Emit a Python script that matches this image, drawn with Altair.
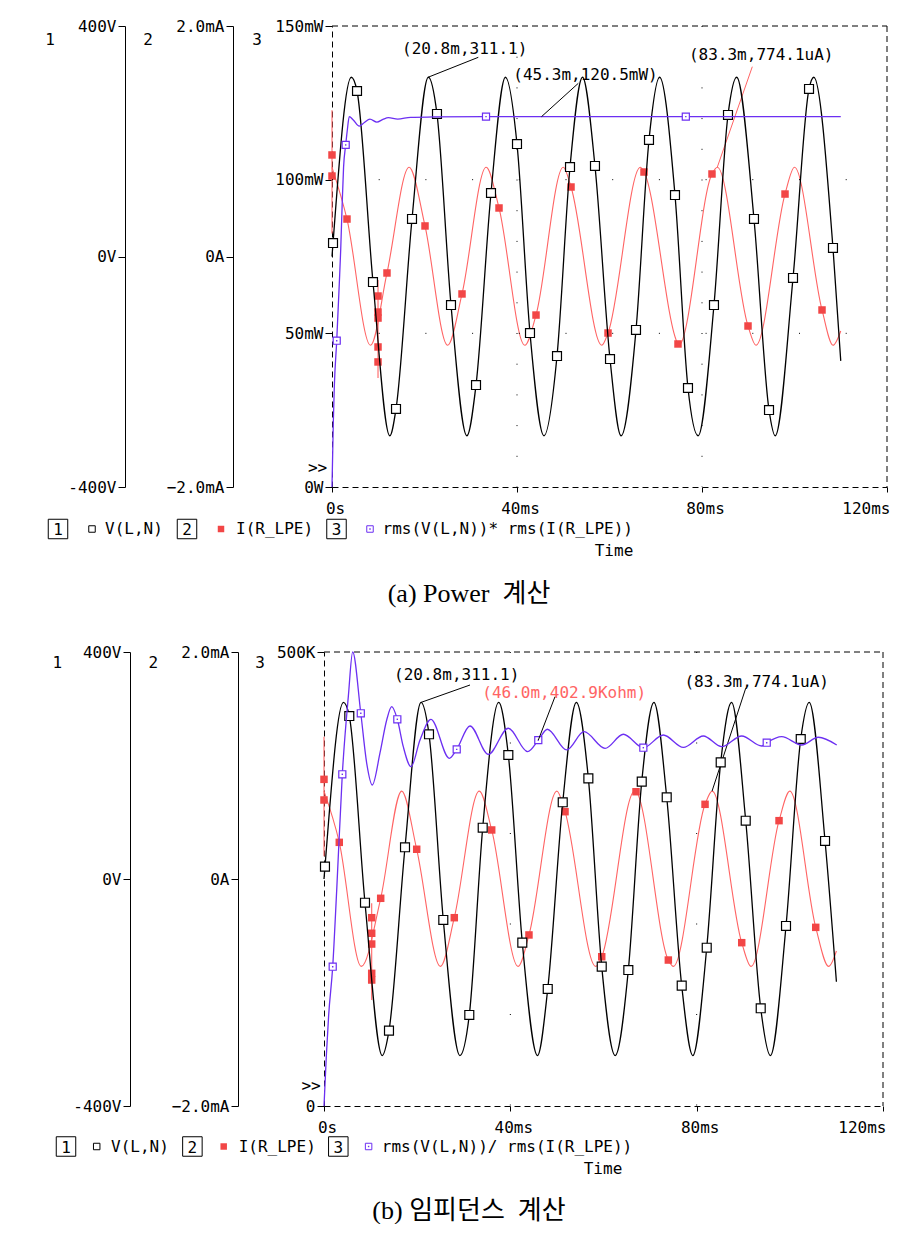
import altair as alt
import pandas as pd

MONO = "DejaVu Sans Mono"
SERIF = "Liberation Serif, Noto Sans CJK KR"
RED_LINE = "#ff6464"
RED_MK = "#f24646"
BLUE = "#6c2ff2"

# ================= Panel (a) : Power =================
# V(L,N) extremes (ms, V)
A_V_T = [0, 4.17, 12.5, 20.83, 29.17, 37.5, 45.83, 54.17, 62.5, 70.83, 79.17, 87.5, 95.83, 104.17, 110.0]
A_V = [0, 311.1, -311.1, 311.1, -311.1, 311.1, -311.1, 311.1, -311.1, 311.1, -311.1, 311.1, -311.1, 311.1, -181.0]
# V(L,N) markers
A_VM_T = [0.22, 5.41, 8.86, 13.84, 17.30, 22.70, 25.73, 31.14, 34.38, 40.0, 42.81, 48.65, 51.46, 56.86,
          60.11, 65.73, 68.54, 74.16, 76.97, 82.59, 85.62, 91.24, 94.49, 99.68, 103.14, 108.32]
A_VM = [23.4, 287.2, -44.3, -264.6, 65.1, 247.3, -84.2, -223.0, 110.2, 195.2, -132.8, -172.7, 155.3, 157.1,
        -177.9, -127.5, 202.2, 106.7, -228.2, -84.2, 245.6, 65.1, -266.4, -37.3, 290.7, 14.8]
# I(R_LPE) extremes (ms, mA)
A_I_T = [0, 8.33, 16.67, 25.0, 33.33, 41.67, 50.0, 58.33, 66.67, 75.0, 83.33, 91.67, 100.0, 108.33, 110.0]
A_I = [0.774, -0.77, 0.774, -0.77, 0.774, -0.77, 0.774, -0.77, 0.774, -0.77, 0.774, -0.77, 0.774, -0.77, -0.646]
# I(R_LPE) markers on the trace
A_IM_T = [3.24, 11.89, 20.11, 28.11, 36.11, 44.11, 51.68, 59.68, 67.46, 74.81, 82.16, 89.95, 97.95, 105.95]
A_IM = [0.325, -0.143, 0.265, -0.325, 0.421, -0.508, 0.603, -0.664, 0.733, -0.759, 0.716, -0.603, 0.542, -0.464]
# I(R_LPE) markers on the vertical steps
A_IX_T = [0, 0, 9.95, 9.95, 9.95, 9.95, 9.95]
A_IX = [0.881, 0.698, -0.343, -0.482, -0.534, -0.785, -0.915]
# vertical steps of I(R_LPE): time, from, to
A_STEP_T = [0, 9.95]
A_STEP_LO = [0.2, -1.054]
A_STEP_HI = [1.27, -0.204]
# rms(V)*rms(I) (ms, mW)
A_P_T = [0, 0.28, 0.5, 1.02, 1.58, 1.88, 2.2, 2.5, 2.96, 3.3, 3.74, 4.6, 5.9, 7.0, 8.2, 9.7, 11.0, 12.2, 14.2,
         17.0, 22.0, 33.3, 76.5, 110.0]
A_P = [0, 20.8, 32.6, 47.6, 66.3, 77.1, 92.0, 104.0, 111.3, 116.0, 120.5, 119.4, 117.4, 118.6, 119.7, 118.7,
       119.6, 120.2, 119.7, 120.3, 120.4, 120.5, 120.5, 120.5]
A_PM_T = [1.02, 2.96, 33.3, 76.5]
A_PM = [47.6, 111.3, 120.5, 120.5]

# ================= Panel (b) : Impedance =================
B_V_T = [0, 4.17, 12.5, 20.83, 29.17, 37.5, 45.83, 54.17, 62.5, 70.83, 79.17, 87.5, 95.83, 104.17, 110.0]
B_V = [0, 311.1, -311.1, 311.1, -311.1, 311.1, -311.1, 311.1, -311.1, 311.1, -311.1, 311.1, -311.1, 311.1, -181.0]
B_VM_T = [0.21, 5.43, 8.80, 13.95, 17.39, 22.54, 25.61, 31.19, 34.07, 39.57, 42.57, 48.03, 51.25, 56.75,
          59.62, 65.33, 68.21, 73.57, 76.79, 82.16, 85.16, 90.53, 93.75, 99.18, 102.34, 107.56]
B_VM = [21.7, 287.2, -41.8, -267.3, 55.9, 255.0, -72.2, -239.6, 90.4, 218.5, -112.2, -193.8, 135.2, 177.4,
        -154.5, -160.4, 171.5, 144.0, -188.0, -121.1, 205.6, 102.7, -227.8, -82.8, 246.7, 67.0]
B_I_T = [0, 8.0, 16.67, 25.0, 33.33, 41.67, 50.0, 58.33, 66.67, 75.0, 83.33, 91.67, 100.0, 108.33, 110.0]
B_I = [0.774, -0.77, 0.774, -0.77, 0.774, -0.77, 0.774, -0.77, 0.774, -0.77, 0.774, -0.77, 0.774, -0.77, -0.634]
B_IM_T = [3.28, 12.17, 19.90, 27.97, 36.0, 44.0, 51.74, 59.62, 66.98, 73.92, 81.80, 89.67, 97.68, 105.56]
B_IM = [0.323, -0.170, 0.262, -0.341, 0.432, -0.493, 0.593, -0.685, 0.769, -0.714, 0.658, -0.561, 0.514, -0.426]
B_IX_T = [0, 0, 10.24, 10.24, 10.24, 10.24, 10.24]
B_IX = [0.878, 0.696, -0.341, -0.478, -0.573, -0.831, -0.890]
B_STEP_T = [0, 10.24]
B_STEP_LO = [0.2, -1.066]
B_STEP_HI = [1.254, -0.214]
# rms(V)/rms(I) (ms, kohm)
B_Z_T = [0, 0.5, 1.0, 2.73, 5.22, 6.16, 9.17, 10.37, 12.02, 13.46, 14.53, 17.02, 18.68, 20.61, 22.97, 26.9,
         31.34, 35.27, 39.57, 43.73, 47.94, 52.10, 55.82, 60.33, 64.26, 72.84, 77.14, 81.43, 85.38, 89.67,
         93.97, 98.26, 102.55, 106.12, 110.07]
B_Z = [0, 55, 100, 238, 450.8, 500, 377.4, 353.5, 388.8, 425.1, 439.8, 395.7, 373.7, 403.1, 425.9, 382.9,
       418.5, 387.3, 416.0, 390.2, 414.9, 392.1, 412.2, 393.9, 409.4, 408.6, 395.0, 407.5, 395.7, 407.5,
       396.5, 406.7, 397.6, 406.1, 397.6]
B_ZM_T = [1.87, 3.93, 7.9, 15.74, 28.49, 46.0, 68.55, 95.04]
B_ZM = [153.4, 365.3, 432.5, 425.9, 392.8, 402.9, 394.6, 400.1]

one = pd.DataFrame({"k": [0]})


def df(ts, vs, col):
    return pd.DataFrame({"t": ts, col: vs})


def joined(ts, vs, mts, mvs, col):
    return pd.concat([df(ts, vs, col), df(mts, mvs, col)]).sort_values("t").reset_index(drop=True)


def txt(s, x, y, size=16, color="black", align="center", font=MONO, baseline="middle"):
    return alt.Chart(one).mark_text(text=s, font=font, fontSize=size, color=color, align=align,
                                    baseline=baseline).encode(x=alt.value(x), y=alt.value(y))


def box_num(n, x, y):
    b = alt.Chart(one).mark_point(shape="square", size=380, filled=False, color="black",
                                  strokeWidth=1, opacity=1).encode(x=alt.value(x), y=alt.value(y))
    return alt.layer(b, txt(n, x, y + 1))


def panel(P):
    W, H = 563, P["H"]
    xsc = alt.Scale(domain=[0, 120], range=[P["x0"], P["x1"]])
    xax = alt.Axis(values=[0, 40, 80, 120],
                   labelExpr="datum.value == 0 ? '0s' : datum.value + 'ms'",
                   tickSize=5, labelPadding=8, domainDash=[6, 4], grid=False, title=None,
                   labelFlush=False, labelOffset=3, labelBaseline="top",
                   labelAlign={"condition": {"test": "datum.value >= 120", "value": "right"},
                               "value": "center"})
    X = alt.X("t:Q", scale=xsc, axis=xax)

    def yax(values, expr, off, dash=None):
        kw = dict(orient="left", offset=off, values=values, labelExpr=expr, tickSize=7,
                  labelPadding=2, grid=False, title=None, labelFlush=False)
        if dash:
            kw["domainDash"] = dash
        return alt.Axis(**kw)

    Vy = alt.Y("v:Q", scale=alt.Scale(domain=[-400, 400]),
               axis=yax([-400, 0, 400], "datum.value + 'V'", P["off1"]))
    Iy = alt.Y("i:Q", scale=alt.Scale(domain=[-2, 2]),
               axis=yax([-2, 0, 2], "datum.value == 0 ? '0A' : format(datum.value, '.1f') + 'mA'", P["off2"]))
    Py = alt.Y("p:Q", scale=alt.Scale(domain=P["pdom"]),
               axis=yax(P["pvals"], P["pexpr"], P["off3"], [6, 4]))

    # ---- current (red)
    iline = alt.Chart(joined(P["I_T"], P["I"], P["IM_T"], P["IM"], "i")).mark_line(
        color=RED_LINE, strokeWidth=1.1, interpolate="monotone").encode(x=X, y=Iy)
    isteps = alt.Chart(pd.DataFrame({"t": P["STEP_T"], "i": P["STEP_LO"], "i2": P["STEP_HI"]})).mark_rule(
        color=RED_LINE, strokeWidth=1.1).encode(x=X, y=Iy, y2="i2:Q")
    imk = alt.Chart(pd.concat([df(P["IM_T"], P["IM"], "i"), df(P["IX_T"], P["IX"], "i")])).mark_square(
        size=56, color=RED_MK, opacity=1).encode(x=X, y=Iy)
    ilead = alt.Chart(df([83.3], [0.7741], "i")).mark_rule(color=P["ilead_color"], strokeWidth=1).encode(
        x=X, y=Iy, x2=alt.value(P["ilead"][0]), y2=alt.value(P["ilead"][1]))
    red = alt.layer(iline, isteps, imk, ilead)

    # ---- voltage (black)
    vline = alt.Chart(joined(P["V_T"], P["V"], P["VM_T"], P["VM"], "v")).mark_line(
        color="black", strokeWidth=1.3, interpolate="monotone").encode(x=X, y=Vy)
    vmk = alt.Chart(df(P["VM_T"], P["VM"], "v")).mark_square(
        size=80, fill="white", stroke="black", strokeWidth=1.2, opacity=1).encode(x=X, y=Vy)
    vlead = alt.Chart(df([20.8], [311.1], "v")).mark_rule(color="black", strokeWidth=1).encode(
        x=X, y=Vy, x2=alt.value(P["vlead"][0]), y2=alt.value(P["vlead"][1]))
    black = alt.layer(vline, vmk, vlead)

    # ---- rms trace (blue)
    pline = alt.Chart(joined(P["P_T"], P["P"], P["PM_T"], P["PM"], "p")).mark_line(
        color=BLUE, strokeWidth=1.3, interpolate="monotone").encode(x=X, y=Py)
    pmk = alt.Chart(df(P["PM_T"], P["PM"], "p")).mark_square(
        size=50, fill="white", stroke=BLUE, strokeWidth=1.2, opacity=1).encode(x=X, y=Py)
    pdot = alt.Chart(df(P["PM_T"], P["PM"], "p")).mark_square(size=2, color=BLUE, opacity=1).encode(x=X, y=Py)
    plead = alt.Chart(df([P["plead_t"]], [P["plead_v"]], "p")).mark_rule(color="black", strokeWidth=1).encode(
        x=X, y=Py, x2=alt.value(P["plead"][0]), y2=alt.value(P["plead"][1]))
    blue_layers = [pline, pmk, pdot, plead]
    if P["hgrid"]:
        hg = alt.Chart(pd.DataFrame({"p": P["hgrid"]})).mark_rule(
            color="black", strokeWidth=1, strokeDash=[1, P["hdash"]]).encode(
            y=Py, x=alt.value(P["x0"]), x2=alt.value(P["x1"]))
        blue_layers.insert(0, hg)
    blue = alt.layer(*blue_layers)

    # ---- frame and grid
    vgrid = alt.Chart(pd.DataFrame({"t": [40, 80]})).mark_rule(
        color="black", strokeWidth=1, strokeDash=[1, P["vdash"]]).encode(
        x=X, y=alt.value(0), y2=alt.value(H))
    top = alt.Chart(pd.DataFrame({"t": [0], "t2": [120]})).mark_rule(
        color="black", strokeWidth=1, strokeDash=[6, 4]).encode(x=X, x2="t2:Q", y=alt.value(0))
    right = alt.Chart(pd.DataFrame({"t": [120]})).mark_rule(
        color="black", strokeWidth=1, strokeDash=[6, 4]).encode(x=X, y=alt.value(0), y2=alt.value(H))

    # ---- texts
    T = P["txt"]
    extras = [
        txt("1", *T["n1"]), txt("2", *T["n2"]), txt("3", *T["n3"]),
        txt(">>", *T["arrow"]),
        txt("(20.8m,311.1)", *T["a1"]),
        txt(P["a2_text"], *T["a2"], color=P["a2_color"]),
        txt("(83.3m,774.1uA)", *T["a3"]),
        box_num("1", *T["b1"]),
        alt.Chart(one).mark_point(shape="square", size=42, filled=False, color="black", strokeWidth=1,
                                  opacity=1).encode(x=alt.value(T["s1"][0]), y=alt.value(T["s1"][1])),
        txt("V(L,N)", *T["l1"], align="left"),
        box_num("2", *T["b2"]),
        alt.Chart(one).mark_square(size=42, color=RED_MK, opacity=1).encode(
            x=alt.value(T["s2"][0]), y=alt.value(T["s2"][1])),
        txt("I(R_LPE)", *T["l2"], align="left"),
        box_num("3", *T["b3"]),
        alt.Chart(one).mark_point(shape="square", size=42, filled=False, color=BLUE, strokeWidth=1,
                                  opacity=1).encode(x=alt.value(T["s3"][0]), y=alt.value(T["s3"][1])),
        alt.Chart(one).mark_square(size=2, color=BLUE, opacity=1).encode(
            x=alt.value(T["s3"][0]), y=alt.value(T["s3"][1])),
        txt(P["l3_text"], *T["l3"], align="left"),
        txt("Time", *T["time"]),
        txt(P["caption"], *T["cap"], size=26, font=SERIF),
    ]
    layers = [vgrid, top, right, red, black, blue] + extras
    if P.get("anchor"):
        layers.append(alt.Chart(one).mark_rule(color="white", opacity=0).encode(
            x=alt.value(P["anchor"][0]), x2=alt.value(P["anchor"][0] + 1), y=alt.value(P["anchor"][1])))
    return alt.layer(*layers).resolve_scale(y="independent").properties(width=W, height=H)


PA = dict(
    H=461, x0=8, x1=563, off1=199, off2=91, off3=-8,
    pdom=[0, 150], pvals=[0, 50, 100, 150],
    pexpr="datum.value == 0 ? '0W' : datum.value + 'mW'",
    V_T=A_V_T, V=A_V, VM_T=A_VM_T, VM=A_VM,
    I_T=A_I_T, I=A_I, IM_T=A_IM_T, IM=A_IM, IX_T=A_IX_T, IX=A_IX,
    STEP_T=A_STEP_T, STEP_LO=A_STEP_LO, STEP_HI=A_STEP_HI,
    P_T=A_P_T, P=A_P, PM_T=A_PM_T, PM=A_PM,
    vlead=(154.3, 31.3), ilead=(428.3, 40.7), ilead_color=RED_LINE,
    plead_t=45.3, plead_v=120.5, plead=(254.3, 57.3),
    hgrid=[50, 100], hdash=45.7, vdash=29.7,
    a2_text="(45.3m,120.5mW)", a2_color="black",
    l3_text="rms(V(L,N))* rms(I(R_LPE))",
    caption="(a) Power\u00a0\u00a0계산",
    anchor=(-316, -18),
    txt=dict(n1=(-274, 14), n2=(-176, 14), n3=(-67, 14), arrow=(-6.5, 441.5),
             a1=(140.7, 22.8), a2=(261.5, 49.3), a3=(437.2, 28.5),
             b1=(-266, 503), s1=(-232, 503), l1=(-219, 503), b2=(-137, 503), s2=(-103, 503),
             l2=(-88, 503), b3=(12.5, 503), s3=(46, 503), l3=(58.5, 503),
             time=(290, 525), cap=(145, 568)),
)

PB = dict(
    H=454, x0=0, x1=559, off1=194, off2=86, off3=0,
    pdom=[0, 500], pvals=[0, 500],
    pexpr="datum.value == 0 ? '0' : datum.value + 'K'",
    V_T=B_V_T, V=B_V, VM_T=B_VM_T, VM=B_VM,
    I_T=B_I_T, I=B_I, IM_T=B_IM_T, IM=B_IM, IX_T=B_IX_T, IX=B_IX,
    STEP_T=B_STEP_T, STEP_LO=B_STEP_LO, STEP_HI=B_STEP_HI,
    P_T=B_Z_T, P=B_Z, PM_T=B_ZM_T, PM=B_ZM,
    vlead=(146, 33), ilead=(421.7, 36.3), ilead_color="black",
    plead_t=46.0, plead_v=402.9, plead=(231, 44.7),
    hgrid=[], hdash=45.7, vdash=89.5,
    a2_text="(46.0m,402.9Kohm)", a2_color=RED_LINE,
    l3_text="rms(V(L,N))/ rms(I(R_LPE))",
    caption="(b) 임피던스\u00a0\u00a0계산",
    txt=dict(n1=(-266.7, 11.3), n2=(-170.7, 11.3), n3=(-64, 11.3), arrow=(-13, 434),
             a1=(132.7, 22.5), a2=(240.2, 41.3), a3=(432.7, 29.7),
             b1=(-258, 494.5), s1=(-227.3, 494.5), l1=(-213, 494.5), b2=(-131.6, 494.5),
             s2=(-100.3, 494.5), l2=(-85.3, 494.5), b3=(14.3, 494.5), s3=(44.6, 494.5),
             l3=(57.8, 494.5), time=(279, 516.5), cap=(145, 559)),
)

chart = alt.vconcat(panel(PA), panel(PB), spacing=165, bounds="flush").properties(
    padding=0, background="white"
).configure_view(stroke=None).configure_axis(
    labelFont=MONO, labelFontSize=16, labelColor="black", domainColor="black", tickColor="black",
    domainWidth=1, tickWidth=1)

chart.save("out.html", embed_options={"renderer": "svg", "actions": False})
